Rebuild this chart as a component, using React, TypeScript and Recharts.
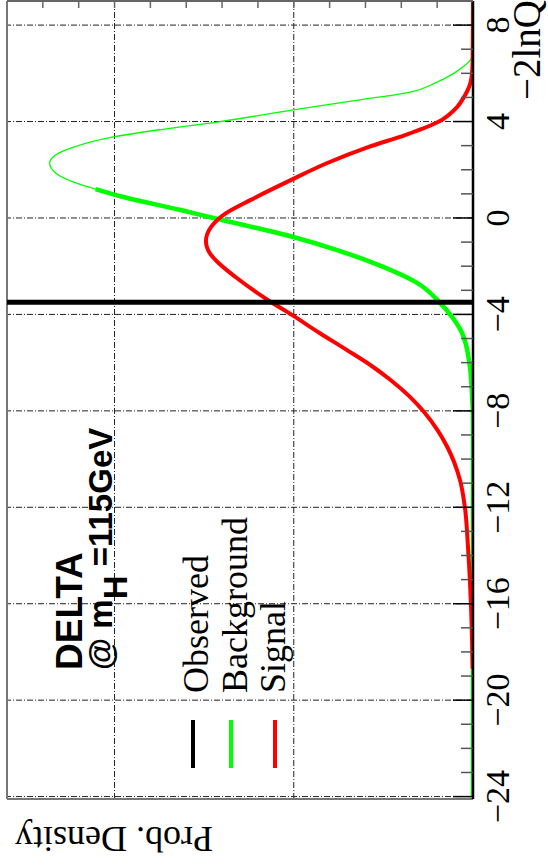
import { Line, LineChart, ReferenceLine, XAxis, YAxis } from "recharts";

// -2lnQ distribution for background-only experiments
const bgQ = [
  -24, -8.4, -7.25, -6.18, -4.77, -4.1, -3.52, -2.69, -2.03, -1.33, -0.79, 0,
  0.33, 0.87, 1.2, 1.49, 1.87, 2.28, 2.61, 2.94, 3.36, 3.65, 3.98, 4.48, 4.89,
  5.22, 5.6, 6.01, 6.3, 6.55, 6.8,
];
const bgDensity = [
  0, 0, 0.0006, 0.0017, 0.0061, 0.0117, 0.0184, 0.0312, 0.0501, 0.0758, 0.1003,
  0.1448, 0.163, 0.195, 0.2106, 0.2228, 0.2329, 0.2362, 0.2329, 0.2228, 0.2006,
  0.176, 0.1426, 0.1003, 0.064, 0.035, 0.021, 0.0105, 0.005, 0.0015, 0,
];

// -2lnQ distribution for signal+background experiments
const sigQ = [
  -18.7, -16.12, -13.64, -12.02, -10.86, -9.49, -8.79, -8.05, -7.41, -6.72,
  -6.16, -5.47, -4.77, -4.02, -3.4, -2.45, -1.9, -1.5, -0.95, -0.36, 0.19,
  0.75, 1.58, 2.28, 2.94, 3.44, 3.98, 4.6, 5.02, 5.43, 5.84, 6.5, 9.0,
];
const sigDensity = [
  0.0002, 0.0011, 0.0028, 0.0045, 0.0073, 0.0144, 0.0199, 0.0273, 0.0353,
  0.046, 0.0561, 0.0705, 0.0856, 0.101, 0.1145, 0.1325, 0.1415, 0.1465, 0.149,
  0.146, 0.138, 0.124, 0.1014, 0.0813, 0.0585, 0.0379, 0.0195, 0.0089, 0.005,
  0.0022, 0.0008, 0.0002, 0,
];

const observedQ = -3.5;
// background line is drawn thin above this value
const bgThinFrom = 1.2;

const qMajor = [-24, -20, -16, -12, -8, -4, 0, 4, 8];
const qTicks = [
  -24, -23, -22, -21, -20, -19, -18, -17, -16, -15, -14, -13, -12, -11, -10, -9,
  -8, -7, -6, -5, -4, -3, -2, -1, 0, 1, 2, 3, 4, 5, 6, 7, 8,
];
const densityTicks = [
  0.02, 0.04, 0.06, 0.08, 0.1, 0.12, 0.14, 0.16, 0.18, 0.2, 0.22, 0.24,
];
const densityGrid = [0.1, 0.2];

const Q_MIN = -24.1;
const Q_MAX = 9.0;
const D_MAX = 0.26;

const W = 867;
const H = 548;
const AXIS_Y = 473;
const SERIF = "'Liberation Serif', 'Times New Roman', serif";
const SANS = "'Liberation Sans', Arial, sans-serif";
const GRID_DASH = "6 2 1 2";

type Row = { q: number; bgThick?: number; bgThin?: number; sig?: number };

const rows: Row[] = [];
bgQ.forEach((q, i) => {
  const d = bgDensity[i];
  const r: Row = { q };
  if (q <= bgThinFrom) r.bgThick = d;
  if (q >= bgThinFrom) r.bgThin = d;
  rows.push(r);
});
sigQ.forEach((q, i) => rows.push({ q, sig: sigDensity[i] }));
rows.sort((a, b) => a.q - b.q);

const fmt = (v: number) => (v < 0 ? `\u2212${-v}` : `${v}`);

const QTick = (props: any) => {
  const { x, payload } = props;
  const v = payload.value as number;
  const major = qMajor.includes(v);
  return (
    <g>
      <line
        x1={x}
        x2={x}
        y1={AXIS_Y}
        y2={AXIS_Y - (major ? 20 : 12)}
        stroke={major ? "#000" : "#555"}
        strokeWidth={1.5}
      />
      {major && (
        <text
          x={x}
          y={AXIS_Y + 36}
          textAnchor="middle"
          fontFamily={SERIF}
          fontSize={34}
          fill="#000"
        >
          {fmt(v)}
        </text>
      )}
    </g>
  );
};

const DensityTick = (props: any) => {
  const { y } = props;
  return (
    <line x1={W - 1} x2={W - 8} y1={y} y2={y} stroke="#666" strokeWidth={1.5} />
  );
};

const legend = [
  { label: "Observed", color: "#000", line: 193, base: 208 },
  { label: "Background", color: "#00ff00", line: 231, base: 247 },
  { label: "Signal", color: "#ff0000", line: 275, base: 285 },
];

export default function App() {
  return (
    <div
      style={{
        position: "fixed",
        left: 0,
        top: 0,
        width: 548,
        height: 867,
        overflow: "hidden",
        background: "#fff",
      }}
    >
      <div
        style={{
          position: "absolute",
          left: 0,
          top: 0,
          width: W,
          height: H,
          transformOrigin: "0 0",
          transform: `translate(0px, ${W}px) rotate(-90deg)`,
        }}
      >
        <LineChart
          width={W}
          height={H}
          data={rows}
          margin={{ top: 7, right: 0, bottom: 0, left: 68 }}
        >
          <XAxis
            dataKey="q"
            type="number"
            domain={[Q_MIN, Q_MAX]}
            allowDataOverflow
            ticks={qTicks}
            interval={0}
            tick={<QTick />}
            tickLine={false}
            tickSize={0}
            height={75}
            axisLine={{ stroke: "#000", strokeWidth: 2.5 }}
          />
          <YAxis
            type="number"
            orientation="right"
            domain={[0, D_MAX]}
            allowDataOverflow
            ticks={densityTicks}
            interval={0}
            tick={<DensityTick />}
            tickLine={false}
            tickSize={0}
            width={1}
            axisLine={{ stroke: "#666", strokeWidth: 2 }}
          />
          {qMajor.map((v) => (
            <ReferenceLine
              key={`gq${v}`}
              x={v}
              stroke="#222"
              strokeWidth={1}
              strokeDasharray={GRID_DASH}
            />
          ))}
          {densityGrid.map((v) => (
            <ReferenceLine
              key={`gd${v}`}
              y={v}
              stroke="#222"
              strokeWidth={1}
              strokeDasharray={GRID_DASH}
            />
          ))}
          <ReferenceLine x={Q_MIN} stroke="#777" strokeWidth={2} />
          <ReferenceLine y={D_MAX} stroke="#777" strokeWidth={2} />
          <Line
            dataKey="bgThin"
            type="monotone"
            stroke="#00ff00"
            strokeWidth={1.3}
            dot={false}
            connectNulls
            isAnimationActive={false}
          />
          <Line
            dataKey="bgThick"
            type="monotone"
            stroke="#00ff00"
            strokeWidth={4.5}
            dot={false}
            connectNulls
            isAnimationActive={false}
          />
          <Line
            dataKey="sig"
            type="monotone"
            stroke="#ff0000"
            strokeWidth={4}
            dot={false}
            connectNulls
            isAnimationActive={false}
          />
          <ReferenceLine x={observedQ} stroke="#000" strokeWidth={5} />
        </LineChart>
        <svg
          width={W}
          height={H}
          style={{ position: "absolute", left: 0, top: 0, pointerEvents: "none" }}
        >
          <text
            x={197}
            y={82}
            fontFamily={SANS}
            fontWeight="bold"
            fontSize={37}
            fill="#000"
          >
            DELTA
          </text>
          <text
            x={197}
            y={112}
            fontFamily={SANS}
            fontWeight="bold"
            fontSize={33}
            fill="#000"
          >
            @ m
            <tspan dy={15}>H</tspan>
            <tspan dy={-15}> =115GeV</tspan>
          </text>
          {legend.map((l) => (
            <g key={l.label}>
              <line
                x1={99}
                x2={147}
                y1={l.line}
                y2={l.line}
                stroke={l.color}
                strokeWidth={4}
              />
              <text
                x={174}
                y={l.base}
                fontFamily={SERIF}
                fontSize={36}
                fill="#000"
              >
                {l.label}
              </text>
            </g>
          ))}
          <text
            x={40}
            y={15}
            transform="rotate(-90 40 15)"
            textAnchor="end"
            fontFamily={SERIF}
            fontSize={36}
            fill="#000"
          >
            Prob. Density
          </text>
          <text
            x={867}
            y={540}
            textAnchor="end"
            fontFamily={SERIF}
            fontSize={39}
            fill="#000"
          >
            {"\u22122lnQ"}
          </text>
        </svg>
      </div>
    </div>
  );
}
